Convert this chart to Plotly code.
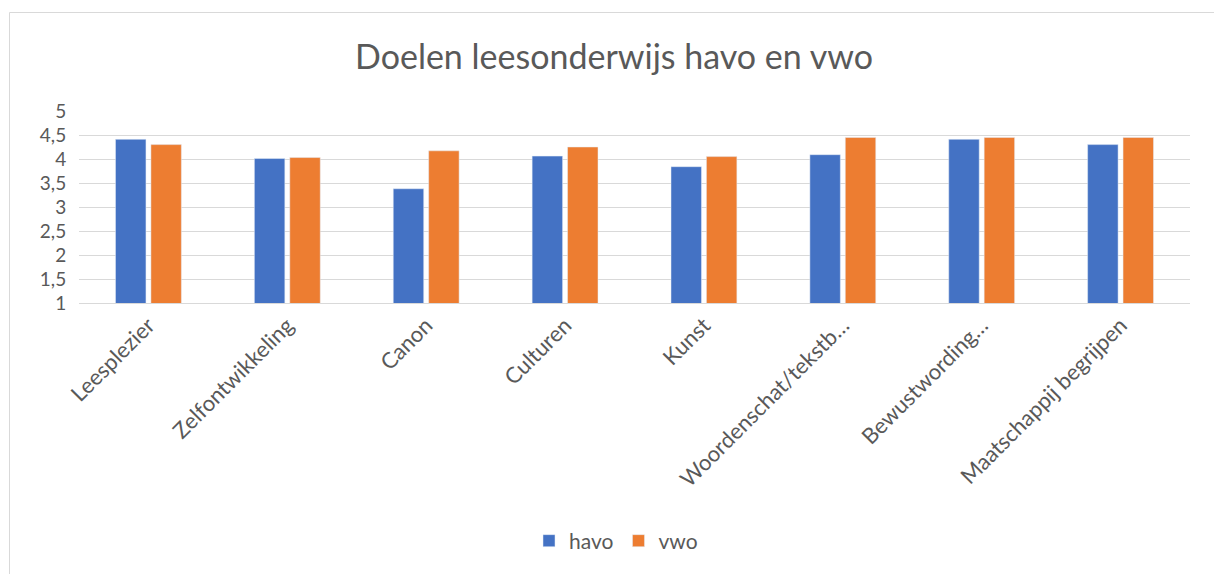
import plotly.graph_objects as go

categories = ["Leesplezier", "Zelfontwikkeling", "Canon", "Culturen", "Kunst",
              "Woordenschat/tekstb…", "Bewustwording…", "Maatschappij begrijpen"]
havo = [4.41, 4.01, 3.38, 4.06, 3.84, 4.09, 4.41, 4.30]
vwo = [4.30, 4.03, 4.17, 4.25, 4.05, 4.45, 4.45, 4.45]
y_ticks = [1, 1.5, 2, 2.5, 3, 3.5, 4, 4.5, 5]
y_tick_text = ["1", "1,5", "2", "2,5", "3", "3,5", "4", "4,5", "5"]

FONT = "Lato, 'Open Sans', sans-serif"
GREY = "#595959"

fig = go.Figure()
fig.add_trace(go.Bar(name="havo", x=categories, y=havo, marker_color="#4472C4"))
fig.add_trace(go.Bar(name="vwo", x=categories, y=vwo, marker_color="#ED7D31"))

L, R, T, B = 79, 24, 111, 271
W, H = 1214, 574
pw, ph = W - L - R, H - T - B

def px(x):
    return (x - L) / pw

def py(y):
    return (H - B - y) / ph

fig.update_layout(
    width=W, height=H,
    margin=dict(l=L, r=R, t=T, b=B, autoexpand=False),
    paper_bgcolor="white", plot_bgcolor="white",
    barmode="group", bargap=0.49, bargroupgap=0.14,
    font=dict(family=FONT, color=GREY, size=16),
    title=dict(text="Doelen leesonderwijs havo en vwo", x=614 / W, xanchor="center",
               y=1 - 57 / H, yanchor="middle",
               font=dict(size=34, color=GREY, family=FONT)),
    legend=dict(orientation="h", x=px(616), xanchor="center", y=py(541), yanchor="middle",
                font=dict(size=21, color=GREY), traceorder="normal"),
    xaxis=dict(tickangle=-45, showgrid=False, showline=True, linecolor="#d9d9d9",
               linewidth=1, tickfont=dict(size=22, color=GREY), ticks="",
               automargin=False),
    yaxis=dict(range=[1, 5], tickvals=y_ticks, ticktext=y_tick_text,
               showgrid=True, gridcolor="#d9d9d9", gridwidth=1, zeroline=False,
               tickfont=dict(size=19, color=GREY), ticks="outside", ticklen=8,
               tickcolor="rgba(0,0,0,0)", automargin=False),
    shapes=[dict(type="rect", xref="paper", yref="paper",
                 x0=px(9.5), x1=px(1230), y0=py(600), y1=py(12.5),
                 line=dict(color="#d9d9d9", width=1), fillcolor="rgba(0,0,0,0)",
                 layer="below")],
)

fig.write_html("out.html", config={"displayModeBar": False},
               post_script="document.body.style.margin='0';document.body.style.overflow='hidden';")
